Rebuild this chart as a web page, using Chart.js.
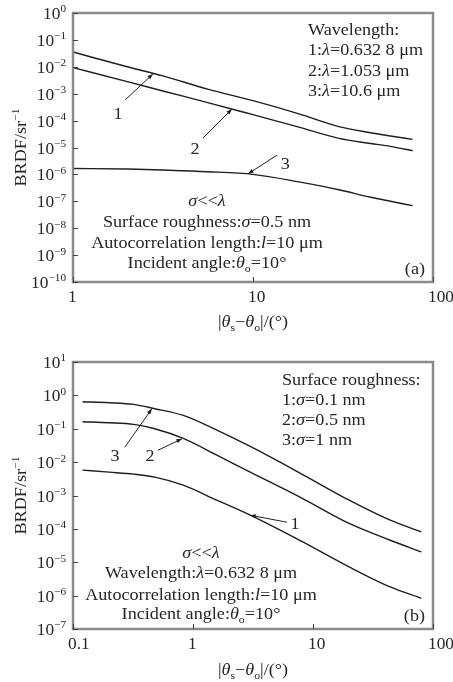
<!DOCTYPE html>
<html>
<head>
<meta charset="utf-8">
<script src="https://cdn.jsdelivr.net/npm/chart.js@4.4.1/dist/chart.umd.min.js"></script>
<style>
  html, body { margin: 0; padding: 0; background: #fff; }
  #wrap { position: relative; width: 453px; height: 682px; overflow: hidden; }
  canvas { position: absolute; left: 0; }
</style>
</head>
<body>
<div id="wrap">
  <canvas id="chartA" width="453" height="340" style="top:0px"></canvas>
  <canvas id="chartB" width="453" height="342" style="top:340px"></canvas>
</div>
<script>
// (a) three wavelengths, sigma = 0.5 nm
var anglesA = [1, 2, 3.16, 5.6, 10, 18, 30, 45, 58, 77];
var brdfA1 = [0.0355, 0.01, 4.57e-3, 1.48e-3, 5.5e-4, 1.78e-4, 6.0e-5, 3.55e-5, 2.69e-5, 2.0e-5];   // 0.6328 um
var brdfA2 = [9.3e-3, 2.82e-3, 1.26e-3, 4.68e-4, 1.66e-4, 5.75e-5, 2.19e-5, 1.41e-5, 1.1e-5, 7.6e-6]; // 1.053 um
var brdfA3 = [1.66e-6, 1.58e-6, 1.45e-6, 1.26e-6, 1.0e-6, 5.25e-7, 2.69e-7, 1.41e-7, 1.0e-7, 6.9e-8]; // 10.6 um
var xTicksA = [1, 10, 100];
var xLabelsA = ['1', '10', '100'];
var yExpA = [0, -1, -2, -3, -4, -5, -6, -7, -8, -9, -10];

// (b) three roughness values, lambda = 0.6328 um
var anglesB = [0.12, 0.2, 0.32, 0.48, 0.83, 1.58, 3.0, 8.0, 20, 44, 80];
var brdfB1 = [5.75e-3, 5.0e-3, 4.37e-3, 3.55e-3, 2.04e-3, 7.24e-4, 2.57e-4, 4.27e-5, 7.24e-6, 1.82e-6, 8.3e-7]; // 0.1 nm
var brdfB2 = [0.162, 0.151, 0.135, 0.1, 0.0513, 0.0162, 5.0e-3, 8.5e-4, 1.45e-4, 4.57e-5, 2.04e-5];        // 0.5 nm
var brdfB3 = [0.646, 0.603, 0.537, 0.398, 0.251, 0.0912, 0.0295, 4.47e-3, 7.24e-4, 1.82e-4, 8.1e-5];        // 1 nm
var xTicksB = [0.1, 1, 10, 100];
var xLabelsB = ['0.1', '1', '10', '100'];
var yExpB = [1, 0, -1, -2, -3, -4, -5, -6, -7];

var FONT = '"Liberation Serif", "Times New Roman", serif';
var SIZE = 16.5, SX = 1.1;
var INK = '#262626';

function fontFor(style, size) {
  if (style === 'i') return 'italic ' + size + 'px ' + FONT;
  if (style === 'sub' || style === 'sup') return (size * 0.65).toFixed(1) + 'px ' + FONT;
  return size + 'px ' + FONT;
}

function richWidth(ctx, segs, size) {
  var w = 0;
  segs.forEach(function(s) {
    ctx.font = fontFor(s[1], size);
    w += ctx.measureText(s[0]).width;
  });
  return w;
}

// draws a line of mixed text, y is the baseline
function drawRich(ctx, segs, x, y, align, size, sx) {
  size = size || SIZE;
  sx = sx || SX;
  ctx.save();
  ctx.translate(x, y);
  ctx.scale(sx, 1);
  ctx.textAlign = 'left';
  ctx.textBaseline = 'alphabetic';
  ctx.fillStyle = INK;
  var w = richWidth(ctx, segs, size);
  var cx = align === 'center' ? -w / 2 : (align === 'right' ? -w : 0);
  segs.forEach(function(s) {
    ctx.font = fontFor(s[1], size);
    var dy = s[1] === 'sub' ? size * 0.25 : (s[1] === 'sup' ? -size * 0.4 : 0);
    ctx.fillText(s[0], cx, dy);
    cx += ctx.measureText(s[0]).width;
  });
  ctx.restore();
}

var decor = {
  id: 'decor',
  afterDraw: function(chart, args, o) {
    var ctx = chart.ctx, a = chart.chartArea;
    var x = chart.scales.x, y = chart.scales.y;
    ctx.save();

    // frame
    ctx.strokeStyle = '#8a8a8a';
    ctx.lineWidth = 2.5;
    ctx.strokeRect(a.left, a.top, a.right - a.left, a.bottom - a.top);

    // inward ticks
    ctx.strokeStyle = '#444';
    ctx.lineWidth = 1;
    o.yExp.forEach(function(e) {
      var py = Math.round(y.getPixelForValue(Math.pow(10, e))) + 0.5;
      ctx.beginPath(); ctx.moveTo(a.left, py); ctx.lineTo(a.left + 5, py); ctx.stroke();
    });
    o.xTicks.forEach(function(v) {
      var px = Math.round(x.getPixelForValue(v)) + 0.5;
      ctx.beginPath(); ctx.moveTo(px, a.bottom); ctx.lineTo(px, a.bottom - 5); ctx.stroke();
    });

    // y tick labels 10^n
    o.yExp.forEach(function(e) {
      var py = y.getPixelForValue(Math.pow(10, e));
      var ex = e < 0 ? '\u2212' + (-e) : String(e);
      drawRich(ctx, [['10'], [ex, 'sup']], 66, py + 6, 'right', 16.5, 1.05);
    });

    // x tick labels
    o.xTicks.forEach(function(v, i) {
      var px = x.getPixelForValue(v);
      drawRich(ctx, [[o.xLabels[i]]], px - 5, a.bottom + 20, 'left', 16.5, 1.05);
    });

    // axis titles
    drawRich(ctx, [['|'], ['\u03b8', 'i'], ['s', 'sub'], ['\u2212'], ['\u03b8', 'i'], ['o', 'sub'], ['|/(\u00b0)']],
      (a.left + a.right) / 2, a.bottom + o.xTitleDy, 'center');
    ctx.save();
    ctx.translate(26, (a.top + a.bottom) / 2);
    ctx.rotate(-Math.PI / 2);
    drawRich(ctx, [['BRDF/sr'], ['\u22121', 'sup']], 0, 0, 'center');
    ctx.restore();

    // annotation text
    o.texts.forEach(function(t) {
      drawRich(ctx, t.segs, a.left + t.dx, a.top + t.dy, t.align);
    });

    // arrows with labels
    ctx.strokeStyle = '#1e1e1e';
    ctx.fillStyle = '#1e1e1e';
    o.arrows.forEach(function(ar) {
      var x0 = x.getPixelForValue(ar.from[0]), y0 = y.getPixelForValue(ar.from[1]);
      var x1 = x.getPixelForValue(ar.to[0]), y1 = y.getPixelForValue(ar.to[1]);
      var ang = Math.atan2(y1 - y0, x1 - x0);
      ctx.lineWidth = 1;
      ctx.beginPath(); ctx.moveTo(x0, y0); ctx.lineTo(x1, y1); ctx.stroke();
      ctx.beginPath();
      ctx.moveTo(x1, y1);
      ctx.lineTo(x1 - 6 * Math.cos(ang - 0.35), y1 - 6 * Math.sin(ang - 0.35));
      ctx.lineTo(x1 - 6 * Math.cos(ang + 0.35), y1 - 6 * Math.sin(ang + 0.35));
      ctx.closePath(); ctx.fill();
      var lx = x.getPixelForValue(ar.at[0]), ly = y.getPixelForValue(ar.at[1]);
      drawRich(ctx, [[ar.label]], lx, ly + 6, 'center');
    });

    ctx.restore();
  }
};

function makeChart(id, xs, series, xMin, xMax, yMin, yMax, padTop, xAxisH, deco) {
  return new Chart(document.getElementById(id), {
    type: 'line',
    data: {
      datasets: series.map(function(s) {
        return {
          data: xs.map(function(v, i) { return { x: v, y: s[i] }; }),
          borderColor: '#1e1e1e',
          borderWidth: 1.4,
          pointRadius: 0,
          cubicInterpolationMode: 'monotone',
          fill: false
        };
      })
    },
    options: {
      responsive: false,
      animation: false,
      layout: { padding: { top: padTop, right: 20, left: 0, bottom: 0 } },
      plugins: { legend: { display: false }, tooltip: { enabled: false }, decor: deco },
      scales: {
        x: {
          type: 'logarithmic', min: xMin, max: xMax,
          grid: { display: false }, border: { display: false }, ticks: { display: false },
          afterFit: function(s) { s.height = xAxisH; }
        },
        y: {
          type: 'logarithmic', min: yMin, max: yMax,
          grid: { display: false }, border: { display: false }, ticks: { display: false },
          afterFit: function(s) { s.width = 73; }
        }
      }
    },
    plugins: [decor]
  });
}

makeChart('chartA', anglesA, [brdfA1, brdfA2, brdfA3], 1, 100, 1e-10, 1, 13, 58, {
  yExp: yExpA, xTicks: xTicksA, xLabels: xLabelsA, xTitleDy: 45,
  texts: [
    { segs: [['Wavelength:']], dx: 235, dy: 21.5, align: 'left' },
    { segs: [['1:'], ['\u03bb', 'i'], ['=0.632 8 \u03bcm']], dx: 235, dy: 42, align: 'left' },
    { segs: [['2:'], ['\u03bb', 'i'], ['=1.053 \u03bcm']], dx: 235, dy: 63, align: 'left' },
    { segs: [['3:'], ['\u03bb', 'i'], ['=10.6 \u03bcm']], dx: 235, dy: 83, align: 'left' },
    { segs: [['\u03c3', 'i'], ['<<'], ['\u03bb', 'i']], dx: 134, dy: 192.5, align: 'center' },
    { segs: [['Surface roughness:'], ['\u03c3', 'i'], ['=0.5 nm']], dx: 134, dy: 214, align: 'center' },
    { segs: [['Autocorrelation length:'], ['l', 'i'], ['=10 \u03bcm']], dx: 134, dy: 235, align: 'center' },
    { segs: [['Incident angle:'], ['\u03b8', 'i'], ['o', 'sub'], ['=10\u00b0']], dx: 134, dy: 255, align: 'center' },
    { segs: [['(a)']], dx: 352, dy: 261, align: 'right' }
  ],
  arrows: [
    { label: '1', to: [2.78, 5.4e-3], from: [1.95, 5.9e-4], at: [1.78, 1.9e-4] },
    { label: '2', to: [7.64, 2.7e-4], from: [5.27, 2.24e-5], at: [4.76, 9.6e-6] },
    { label: '3', to: [9.38, 1.05e-6], from: [13.6, 5.2e-6], at: [15.1, 2.6e-6] }
  ]
});

makeChart('chartB', anglesB, [brdfB1, brdfB2, brdfB3], 0.1, 100, 1e-7, 10, 22, 53, {
  yExp: yExpB, xTicks: xTicksB, xLabels: xLabelsB, xTitleDy: 46,
  texts: [
    { segs: [['Surface roughness:']], dx: 209, dy: 23, align: 'left' },
    { segs: [['1:'], ['\u03c3', 'i'], ['=0.1 nm']], dx: 209, dy: 43, align: 'left' },
    { segs: [['2:'], ['\u03c3', 'i'], ['=0.5 nm']], dx: 209, dy: 63, align: 'left' },
    { segs: [['3:'], ['\u03c3', 'i'], ['=1 nm']], dx: 209, dy: 83, align: 'left' },
    { segs: [['\u03c3', 'i'], ['<<'], ['\u03bb', 'i']], dx: 128, dy: 196, align: 'center' },
    { segs: [['Wavelength:'], ['\u03bb', 'i'], ['=0.632 8 \u03bcm']], dx: 128, dy: 216, align: 'center' },
    { segs: [['Autocorrelation length:'], ['l', 'i'], ['=10 \u03bcm']], dx: 128, dy: 238, align: 'center' },
    { segs: [['Incident angle:'], ['\u03b8', 'i'], ['o', 'sub'], ['=10\u00b0']], dx: 128, dy: 257, align: 'center' },
    { segs: [['(b)']], dx: 352, dy: 259, align: 'right' }
  ],
  arrows: [
    { label: '3', to: [0.455, 0.4], from: [0.27, 0.028], at: [0.224, 0.0162] },
    { label: '2', to: [0.81, 0.05], from: [0.51, 0.0227], at: [0.439, 0.0162] },
    { label: '1', to: [2.99, 2.57e-4], from: [6.07, 1.58e-4], at: [7.08, 1.48e-4] }
  ]
});
</script>
</body>
</html>
